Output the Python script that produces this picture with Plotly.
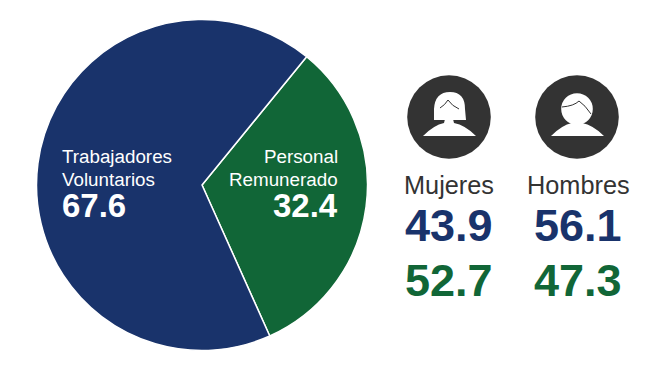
import plotly.graph_objects as go

W, H = 666, 372
slice_labels = ["Personal<br>Remunerado", "Trabajadores<br>Voluntarios"]
slice_values = [32.4, 67.6]
slice_colors = ["#116637", "#19336b"]
genders = ["Mujeres", "Hombres"]
volunteer_by_gender = [43.9, 56.1]
paid_by_gender = [52.7, 47.3]

BLUE, GREEN = "#19336b", "#116637"
FONT = "Liberation Sans"
cx, cy, r = 202, 185, 165.5

def px(x): return x / W
def py(y): return 1 - y / H

def P(points):
    out = []
    for p in points:
        if p[0] in "ML":
            out.append(f"{p[0]}{px(p[1]):.5f},{py(p[2]):.5f}")
        elif p[0] == "Q":
            out.append(f"Q{px(p[1]):.5f},{py(p[2]):.5f} {px(p[3]):.5f},{py(p[4]):.5f}")
        else:
            out.append("Z")
    return " ".join(out)

fig = go.Figure(go.Pie(
    labels=[l.replace("<br>", " ") for l in slice_labels], values=slice_values,
    sort=False, direction="clockwise", rotation=39.2,
    marker=dict(colors=slice_colors, line=dict(color="white", width=1.5)),
    textinfo="none", hoverinfo="label+value", showlegend=False,
    domain=dict(x=[px(cx - r), px(cx + r)], y=[py(cy + r), py(cy - r)]),
))

shapes, ann = [], []

def text(x, y, s, size, color, anchor="center", bold=False):
    ann.append(dict(x=px(x), y=py(y), xref="paper", yref="paper", text=f"<b>{s}</b>" if bold else s,
                    showarrow=False, xanchor=anchor, yanchor="middle", borderpad=0,
                    font=dict(family=FONT, size=size, color=color), align=anchor))

def circle(x, y, rad, fill):
    shapes.append(dict(type="circle", xref="paper", yref="paper", x0=px(x - rad), x1=px(x + rad),
                       y0=py(y + rad), y1=py(y - rad), fillcolor=fill, line_width=0))

def path(d, fill=None, line=None):
    shapes.append(dict(type="path", xref="paper", yref="paper", path=d,
                       fillcolor=fill if fill else "rgba(0,0,0,0)",
                       line=dict(color=line, width=1) if line else dict(width=0)))

ICON = "#333333"
for ix, kind in ((449, "f"), (577, "m")):
    iy = 117
    circle(ix, iy, 41.8, ICON)
    # shoulders and neck
    path(P([("M", ix - 26, iy + 19), ("Q", ix - 15, iy + 8, ix - 5, iy + 6), ("L", ix - 4, iy + 2), ("L", ix + 4, iy + 2),
            ("L", ix + 5, iy + 6), ("Q", ix + 16, iy + 8, ix + 27, iy + 19), ("Z",)]), fill="white")
    if kind == "f":
        path(P([("M", ix - 15, iy + 3), ("L", ix - 15, iy - 8), ("Q", ix - 14, iy - 25, ix + 1, iy - 25),
                ("Q", ix + 16, iy - 25, ix + 16, iy - 8), ("L", ix + 17, iy + 3), ("Z",)]), fill="white")
        path(P([("M", ix - 9, iy - 9), ("Q", ix - 4, iy - 12, ix - 1, iy - 17), ("Q", ix + 3, iy - 11, ix + 10, iy - 8)]), line=ICON)
    else:
        circle(ix, iy - 8, 15.8, "white")
        path(P([("M", ix - 15, iy - 10), ("Q", ix - 3, iy - 11, ix + 2, iy - 16), ("Q", ix + 8, iy - 12, ix + 14, iy - 3)]), line=ICON)

first = slice_labels[1].split("<br>")
text(61, 156.5, first[0], 18.8, "white", "left")
text(61, 179.5, first[1], 18.8, "white", "left")
text(61, 205.5, slice_values[1], 33, "white", "left", True)
second = slice_labels[0].split("<br>")
text(339, 156.5, second[0], 18.8, "white", "right")
text(339, 179.5, second[1], 18.8, "white", "right")
text(339, 205.5, slice_values[0], 33, "white", "right", True)

for x, g, a, b in zip((449, 578), genders, volunteer_by_gender, paid_by_gender):
    text(x, 184.5, g, 25.3, "#333333")
    text(x - 0.5, 225.5, a, 45, BLUE, bold=True)
    text(x - 0.5, 280, b, 45, GREEN, bold=True)

fig.update_layout(width=W, height=H, margin=dict(l=0, r=0, t=0, b=0), paper_bgcolor="white",
                  shapes=shapes, annotations=ann, font=dict(family=FONT))
fig.write_html("out.html", config=dict(displayModeBar=False),
               post_script="document.body.style.margin='0';document.documentElement.style.overflow='hidden';")
